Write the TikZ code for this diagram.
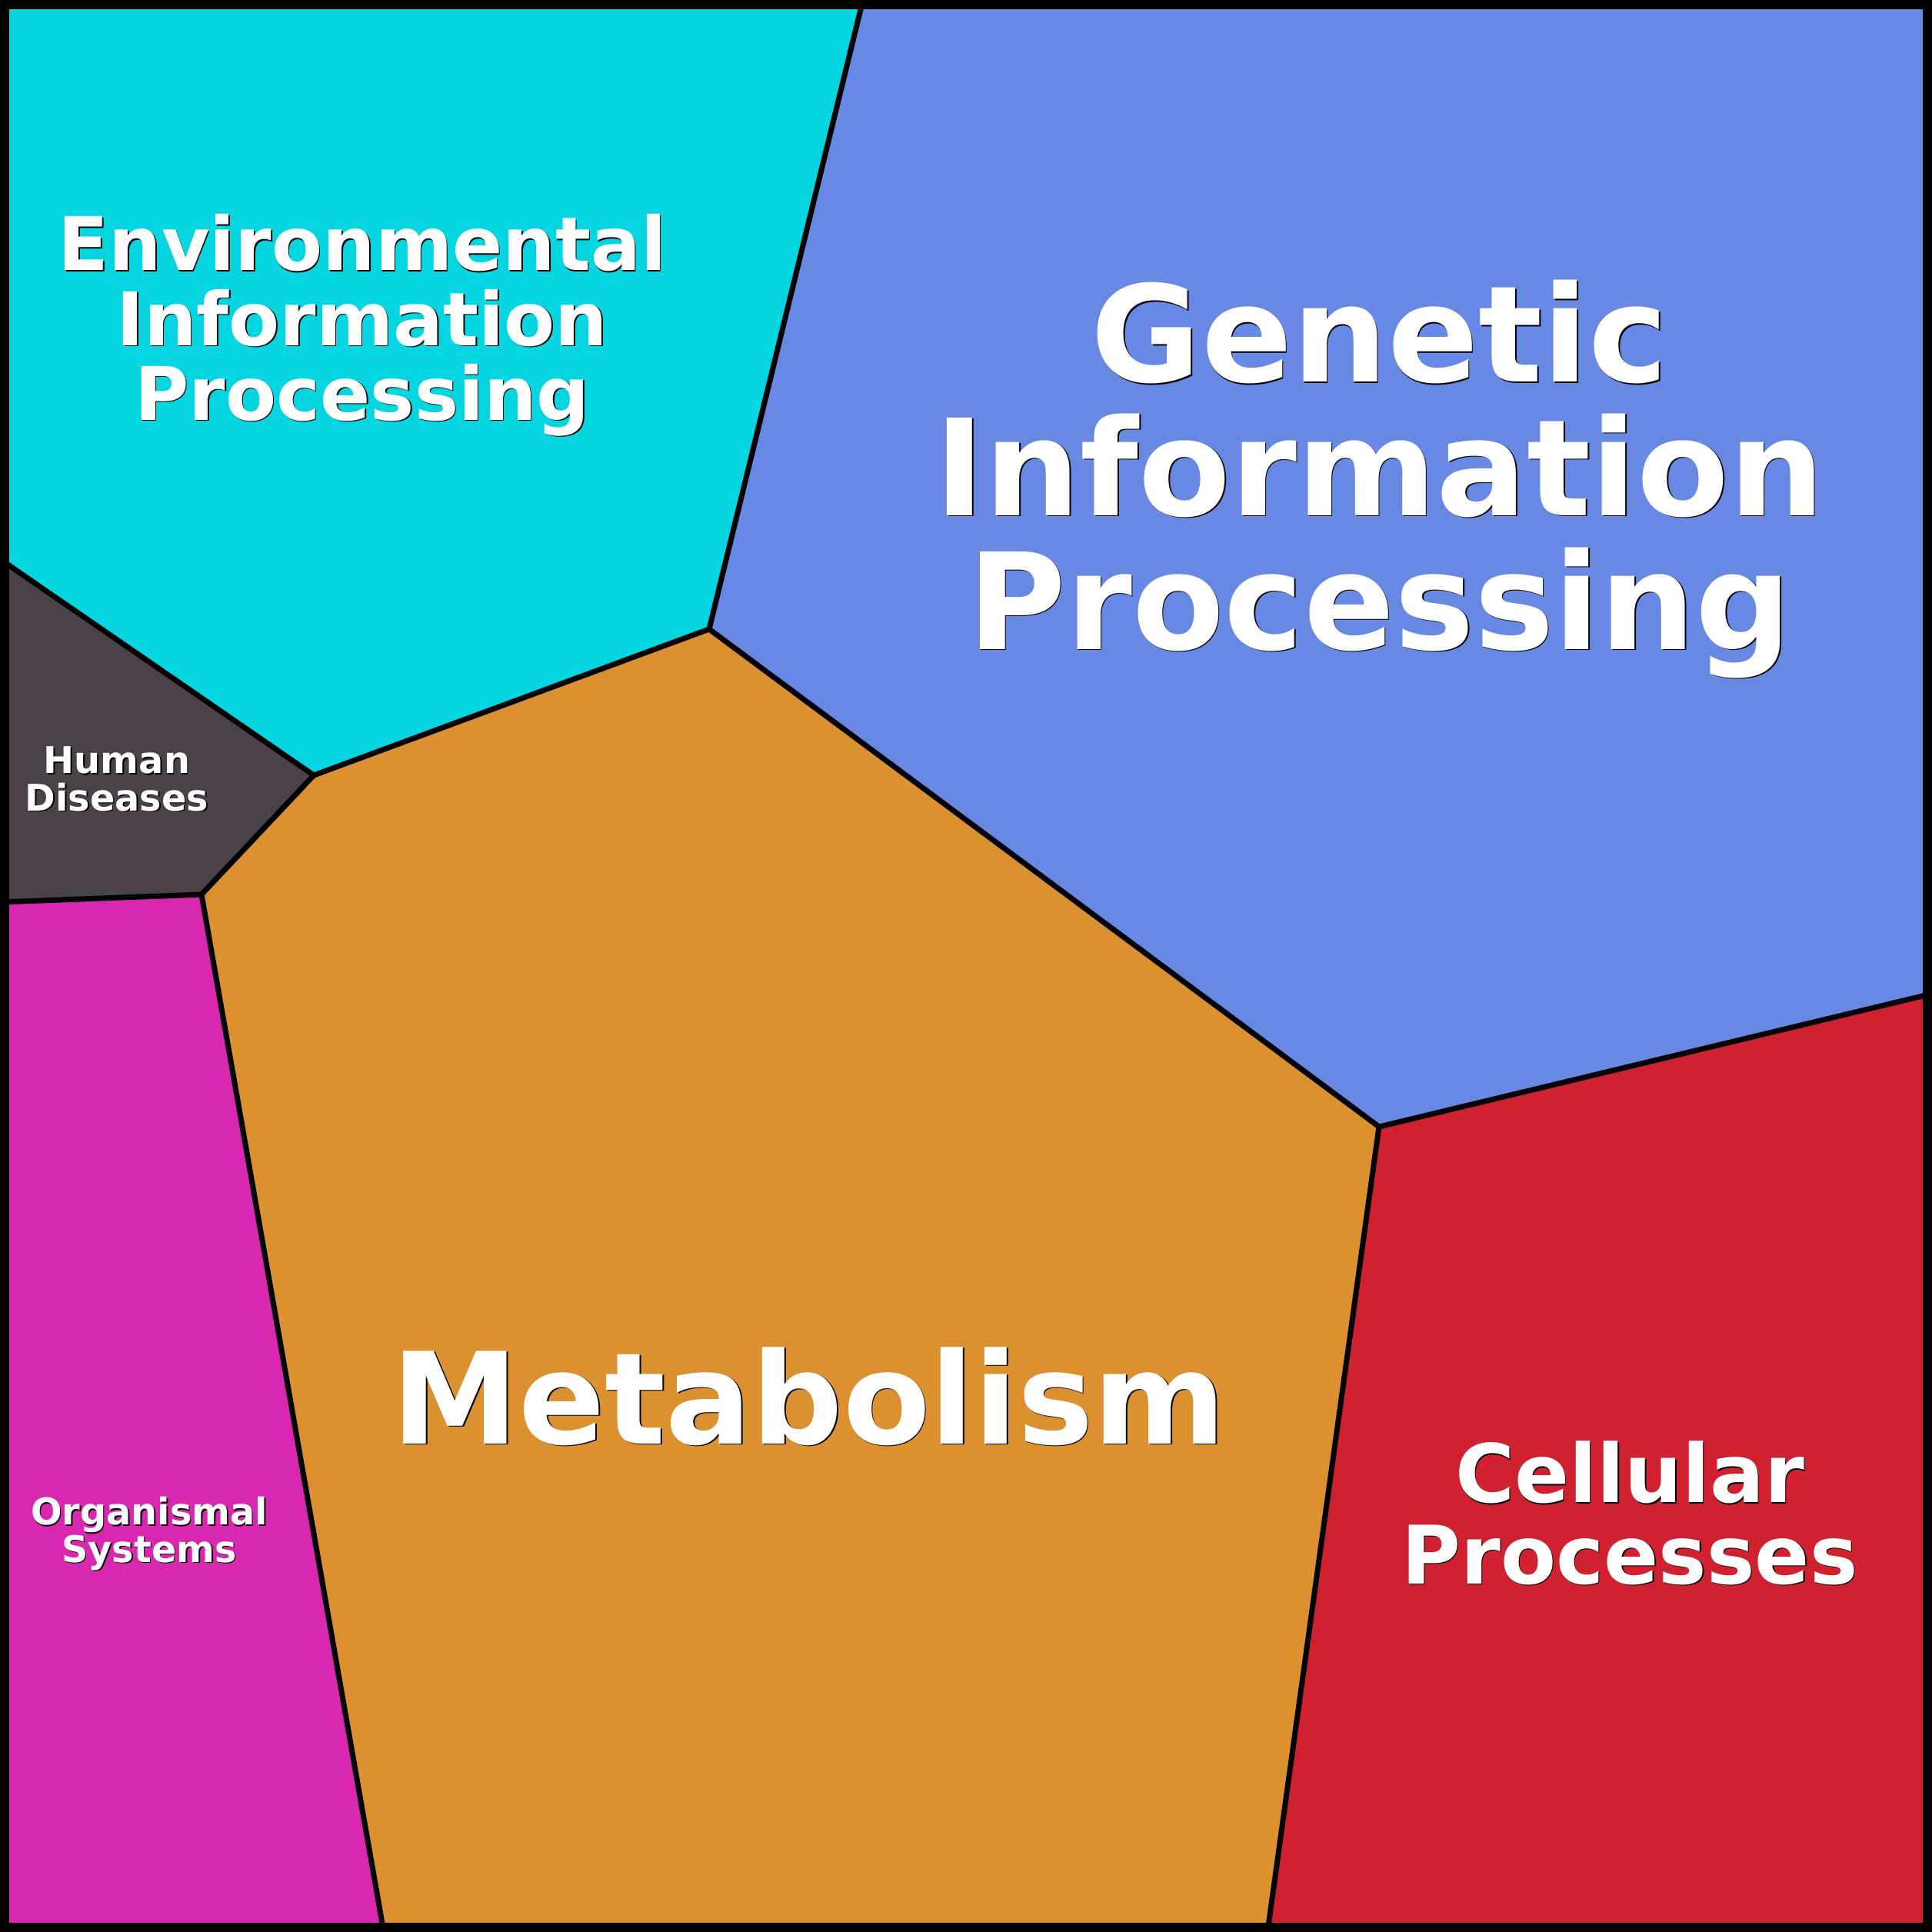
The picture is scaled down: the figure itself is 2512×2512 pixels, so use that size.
\documentclass[tikz,border=0pt]{standalone}
\usepackage{fontspec}
\setmainfont{DejaVu Sans}
\usepackage{tikz}
\usetikzlibrary{positioning}
\definecolor{envcol}{HTML}{04D5E0}
\definecolor{gencol}{HTML}{6789E4}
\definecolor{humcol}{HTML}{4B4249}
\definecolor{metcol}{HTML}{DB9130}
\definecolor{orgcol}{HTML}{D828B0}
\definecolor{celcol}{HTML}{D02131}
\tikzset{
  cell/.style = {draw=none},
  wall/.style = {line width=0.7mm, line join=round, line cap=round},
  catname/.style = {text=white, align=center, inner sep=0pt, anchor=base},
  hugefont/.style = {font=\fontsize{49.6}{49.4}\selectfont\bfseries},
  bigfont/.style = {font=\fontsize{47.1}{47.1}\selectfont\bfseries},
  midfont/.style = {font=\fontsize{29.9}{29.9}\selectfont\bfseries},
  envfont/.style = {font=\fontsize{27.4}{27.6}\selectfont\bfseries},
  tinyfont/.style = {font=\fontsize{13.6}{13.8}\selectfont\bfseries},
}
% text with a thin dark shadow
\newcommand\catnode[4]{%
  \node[catname, #3, text=black, xshift=0.45pt, yshift=-0.45pt] at (#2) {#4};
  \node[catname, #3] (#1) at (#2) {#4};}

\begin{document}
\begin{tikzpicture}[x=0.1mm, y=-0.1mm]
  \useasboundingbox (0,0) rectangle (2512,2512);
  % corners of the square
  \coordinate (tl) at (0,0);
  \coordinate (tr) at (2512,0);
  \coordinate (br) at (2512,2512);
  \coordinate (bl) at (0,2512);
  % points on the outer edge
  \coordinate (top) at (1122,0);
  \coordinate (left1) at (0,727);
  \coordinate (left2) at (0,1173);
  \coordinate (right1) at (2512,1292);
  \coordinate (bot1) at (499,2512);
  \coordinate (bot2) at (1648,2512);
  % inner junctions
  \coordinate (j1) at (922,818);
  \coordinate (j2) at (408,1008);
  \coordinate (j3) at (262,1163);
  \coordinate (j4) at (1793,1465);

  \fill[envcol] (tl) -- (top) -- (j1) -- (j2) -- (left1) -- cycle;
  \fill[gencol] (top) -- (tr) -- (right1) -- (j4) -- (j1) -- cycle;
  \fill[humcol] (left1) -- (j2) -- (j3) -- (left2) -- cycle;
  \fill[orgcol] (left2) -- (j3) -- (bot1) -- (bl) -- cycle;
  \fill[metcol] (j1) -- (j4) -- (bot2) -- (bot1) -- (j3) -- (j2) -- cycle;
  \fill[celcol] (j4) -- (right1) -- (br) -- (bot2) -- cycle;

  \draw[wall] (top) -- (j1) -- (j2) -- (left1);
  \draw[wall] (j2) -- (j3) -- (left2);
  \draw[wall] (j3) -- (bot1);
  \draw[wall] (j1) -- (j4) -- (right1);
  \draw[wall] (j4) -- (bot2);
  \draw[line width=1.2mm] (6,6) rectangle (2506,2506);

  % base anchor sits on the last line
  \catnode{env}{471,546}{envfont}{Environmental\\Information\\Processing}
  \catnode{gen}{1794,844}{hugefont}{Genetic\\Information\\Processing}
  \catnode{met}{1052,1877}{bigfont}{Metabolism}
  \catnode{cel}{2119,2059}{midfont}{Cellular\\Processes}
  \catnode{hum}{152,1054}{tinyfont}{Human\\Diseases}
  \catnode{org}{194,2031}{tinyfont}{Organismal\\Systems}
\end{tikzpicture}
\end{document}
